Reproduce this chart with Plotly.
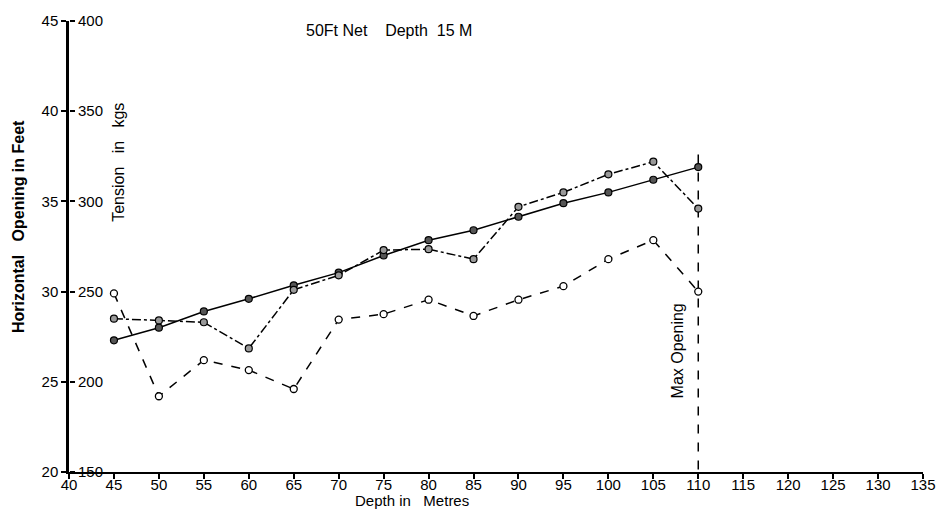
import plotly.graph_objects as go

# Depth in metres
depth = [45, 50, 55, 60, 65, 70, 75, 80, 85, 90, 95, 100, 105, 110]

# Solid line series (horizontal opening, ft scale)
solid_vals = [27.3, 28.0, 28.9, 29.6, 30.35, 31.05, 32.0, 32.85, 33.4, 34.15, 34.9, 35.5, 36.2, 36.9]
# Dash-dot series
dashdot_vals = [28.5, 28.4, 28.3, 26.85, 30.1, 30.9, 32.3, 32.35, 31.8, 34.7, 35.5, 36.5, 37.2, 34.6]
# Dashed series (open circles)
dashed_vals = [29.9, 24.2, 26.2, 25.65, 24.6, 28.45, 28.75, 29.55, 28.65, 29.55, 30.3, 31.8, 32.85, 30.0]

# Max opening marker line
max_depth = [110, 110]
max_line = [37.6, 20]

x_ticks = [40, 45, 50, 55, 60, 65, 70, 75, 80, 85, 90, 95, 100, 105, 110, 115, 120, 125, 130, 135]
ft_ticks = [20, 25, 30, 35, 40, 45]
kg_ticks = [150, 200, 250, 300, 350, 400]

FONT = "Liberation Sans, Arial, sans-serif"

fig = go.Figure()

fig.add_trace(go.Scatter(
    x=max_depth, y=max_line, mode="lines",
    line=dict(color="black", width=1.5, dash="dash"), showlegend=False))

fig.add_trace(go.Scatter(
    x=depth, y=solid_vals, mode="lines+markers",
    line=dict(color="black", width=1.5),
    marker=dict(symbol="circle", size=7, color="#555", line=dict(color="black", width=1.2)),
    showlegend=False))

fig.add_trace(go.Scatter(
    x=depth, y=dashdot_vals, mode="lines+markers",
    line=dict(color="black", width=1.5, dash="dashdot"),
    marker=dict(symbol="circle", size=7, color="#999", line=dict(color="black", width=1.2)),
    showlegend=False))

fig.add_trace(go.Scatter(
    x=depth, y=dashed_vals, mode="lines+markers",
    line=dict(color="black", width=1.5, dash="dash"),
    marker=dict(symbol="circle", size=7, color="white", line=dict(color="black", width=1.3)),
    showlegend=False))

# invisible trace to activate second y axis (tension scale)
fig.add_trace(go.Scatter(x=[40], y=[150], yaxis="y2", mode="markers",
                         marker=dict(opacity=0), showlegend=False, hoverinfo="skip"))

fig.update_layout(
    width=948, height=517,
    margin=dict(l=69, r=19, t=18, b=45),
    paper_bgcolor="white", plot_bgcolor="white",
    font=dict(family=FONT, color="black", size=14),
    xaxis=dict(range=[40, 135], tickvals=x_ticks, showgrid=False, zeroline=False,
               showline=True, linecolor="black", linewidth=2,
               ticks="outside", ticklen=5, tickwidth=1.5, tickcolor="black",
               ticklabelstandoff=-7, tickfont=dict(size=15)),
    yaxis=dict(range=[20, 45], tickvals=ft_ticks, showgrid=False, zeroline=False,
               showline=True, linecolor="black", linewidth=2.5,
               ticks="outside", ticklen=5, tickwidth=1.5, tickcolor="black",
               tickfont=dict(size=15)),
    yaxis2=dict(range=[150, 400], tickvals=kg_ticks, overlaying="y", side="right",
                anchor="free", position=0,
                showgrid=False, zeroline=False, showline=False,
                ticks="outside", ticklen=5, tickwidth=1.5, tickcolor="black",
                tickfont=dict(size=15)),
    annotations=[
        dict(text="50Ft&nbsp;Net&nbsp;&nbsp;&nbsp;&nbsp;Depth&nbsp;&nbsp;15 M", xref="paper", yref="paper",
             x=0.375, y=0.978, xanchor="center", yanchor="middle", showarrow=False, font=dict(size=16)),
        dict(text="Tension&nbsp;&nbsp;&nbsp;in&nbsp;&nbsp;&nbsp;kgs", xref="paper", yref="paper",
             x=0.057, y=0.687, xanchor="center", yanchor="middle",
             showarrow=False, textangle=-90, font=dict(size=16)),
        dict(text="<b>Horizontal&nbsp;&nbsp;&nbsp;Opening in Feet</b>", xref="paper", yref="paper",
             x=-0.0593, y=0.544, xanchor="center", yanchor="middle",
             showarrow=False, textangle=-90, font=dict(size=16)),
        dict(text="Max Opening", xref="paper", yref="paper",
             x=0.7128, y=0.269, xanchor="center", yanchor="middle",
             showarrow=False, textangle=-90, font=dict(size=16)),
        dict(text="Depth in&nbsp;&nbsp;&nbsp;Metres", xref="paper", yref="paper",
             x=0.402, y=-0.064, xanchor="center", yanchor="middle",
             showarrow=False, font=dict(size=15)),
    ],
)

fig.write_html("out.html")
